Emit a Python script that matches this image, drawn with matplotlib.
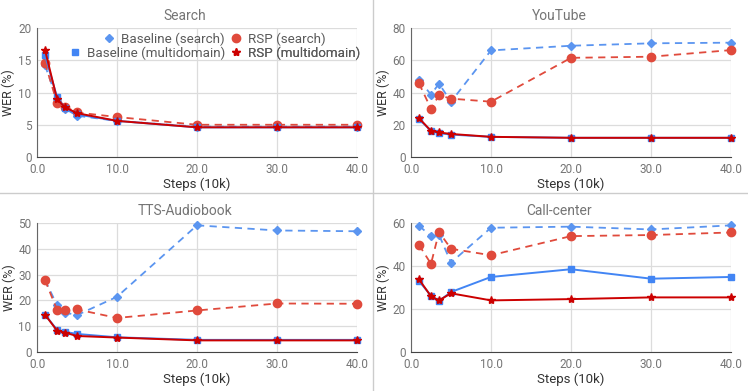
import matplotlib
matplotlib.use("Agg")
import matplotlib.pyplot as plt
from matplotlib.lines import Line2D
from matplotlib.ticker import FormatStrFormatter

plt.rcParams['font.family'] = ['Roboto', 'DejaVu Sans']

steps = [1, 2.5, 3.5, 5, 10, 20, 30, 40]

titles = ["Search", "YouTube", "TTS-Audiobook", "Call-center"]
ymax = [20, 80, 50, 60]
ystep = [5, 20, 10, 20]

base_search = [
    [14.2, 9.0, 7.5, 6.4, 5.6, 4.7, 4.7, 4.7],
    [47.8, 38.7, 45.5, 34.3, 66.1, 69.0, 70.5, 70.9],
    [27.9, 18.2, 15.3, 14.3, 21.4, 49.1, 47.1, 46.8],
    [58.7, 53.9, 54.5, 41.6, 57.8, 58.3, 57.0, 58.9],
]
base_multi = [
    [15.8, 9.3, 7.6, 6.6, 5.6, 4.6, 4.6, 4.6],
    [23.5, 16.2, 14.8, 13.9, 12.5, 11.9, 11.9, 11.9],
    [14.5, 8.6, 7.8, 7.0, 5.7, 4.7, 4.7, 4.7],
    [33.0, 26.2, 23.7, 27.9, 34.9, 38.5, 34.1, 34.9],
]
rsp_search = [
    [14.6, 8.4, 7.8, 6.9, 6.2, 5.0, 5.0, 5.0],
    [45.7, 29.9, 38.3, 36.2, 34.3, 61.5, 62.2, 66.3],
    [27.9, 16.4, 16.1, 16.5, 13.2, 16.1, 18.8, 18.7],
    [49.8, 41.0, 55.8, 48.0, 45.0, 53.9, 54.4, 55.6],
]
rsp_multi = [
    [16.6, 9.0, 7.7, 6.8, 5.6, 4.6, 4.6, 4.6],
    [24.1, 16.2, 15.2, 14.3, 12.5, 11.9, 11.9, 11.9],
    [14.5, 8.3, 7.5, 6.2, 5.6, 4.5, 4.5, 4.5],
    [33.8, 25.9, 24.0, 27.3, 24.0, 24.6, 25.4, 25.4],
]
labels = ["Baseline (search)", "Baseline (multidomain)", "RSP (search)", "RSP (multidomain)"]

BLUE = "#4285f4"
BLUE2 = "#5b95f0"
RED = "#e04a3c"
DRED = "#cc0000"
GRAY = "#757575"

W, H = 748, 391
fig = plt.figure(figsize=(W / 100, H / 100), dpi=100)

panel_px = [(37, 28), (411, 28), (37, 223), (411, 223)]
aw, ah = 320, 129

for i in range(4):
    lx, ty = panel_px[i]
    ax = fig.add_axes([lx / W, 1 - (ty + ah) / H, aw / W, ah / H])
    ax.plot(steps, base_search[i], color=BLUE2, ls=(0, (4, 3)), lw=1.3, marker='D', ms=4,
            clip_on=False, zorder=3, label=labels[0])
    ax.plot(steps, rsp_search[i], color=RED, ls=(0, (4, 3)), lw=1.3, marker='o', ms=6,
            clip_on=False, zorder=3, label=labels[2])
    ax.plot(steps, base_multi[i], color=BLUE, ls='-', lw=1.4, marker='s', ms=4,
            clip_on=False, zorder=4, label=labels[1])
    ax.plot(steps, rsp_multi[i], color=DRED, ls='-', lw=1.4, marker='*', ms=6,
            clip_on=False, zorder=5, label=labels[3])
    ax.set_xlim(0, 40)
    ax.set_ylim(0, ymax[i])
    ax.set_xticks([0, 10, 20, 30, 40])
    ax.set_yticks(list(range(0, ymax[i] + 1, ystep[i])))
    ax.xaxis.set_major_formatter(FormatStrFormatter('%.1f'))
    ax.grid(True, color="#dcdcdc", lw=0.9)
    ax.set_axisbelow(True)
    for s in ['top', 'right']:
        ax.spines[s].set_visible(False)
    ax.spines['left'].set_color("#666666")
    ax.spines['bottom'].set_color("#444444")
    ax.tick_params(axis='x', length=0, labelsize=8.5, labelcolor=GRAY, pad=4.5)
    ax.tick_params(axis='y', length=0, labelsize=8.5, labelcolor=GRAY, pad=4)
    ax.set_title(titles[i], fontsize=10, color=GRAY, pad=6, x=0.463)
    ax.set_xlabel("Steps (10k)", fontsize=9.5, color="#333333", labelpad=1)
    ax.set_ylabel("WER (%)", fontsize=9, color="#333333", labelpad=2)

    if i == 0:
        handles = {l.get_label(): l for l in ax.get_lines()}
        specs = [
            (labels[0], 'center right', (0.5875, 0.915)),
            (labels[1], 'center right', (0.5875, 0.806)),
            (labels[2], 'center left', (0.605, 0.915)),
            (labels[3], 'center left', (0.605, 0.806)),
        ]
        for lab, loc, anchor in specs:
            h = handles[lab]
            proxy = Line2D([], [], ls='none', marker=h.get_marker(), color=h.get_color(),
                           ms=h.get_markersize())
            leg = ax.legend([proxy], [lab], loc=loc, bbox_to_anchor=anchor, frameon=False,
                            borderpad=0, borderaxespad=0, handlelength=0.8,
                            handletextpad=0.5, fontsize=9.6, labelcolor="#5a5a5a")
            ax.add_artist(leg)

# panel dividers
fig.add_artist(Line2D([373 / W, 373 / W], [0, 1], color="#cccccc", lw=1))
fig.add_artist(Line2D([0, 1], [1 - 193 / H, 1 - 193 / H], color="#cccccc", lw=1))

fig.savefig("out.png", dpi=100)
